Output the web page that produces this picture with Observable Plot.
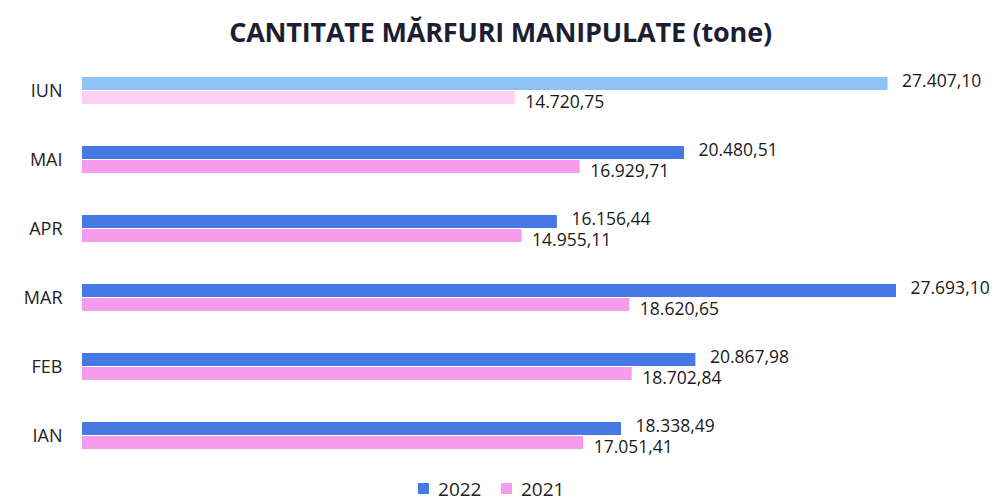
<!DOCTYPE html>
<html>
<head>
<meta charset="utf-8">
<script src="https://cdn.jsdelivr.net/npm/d3@7"></script>
<script src="https://cdn.jsdelivr.net/npm/@observablehq/plot@0.6"></script>
<style>
  body { margin: 0; background: #fff; width: 1001px; height: 501px; overflow: hidden; font-family: "Open Sans", sans-serif; position: relative; }
  #title { height: 55px; line-height: 64px; text-align: center; font-weight: 700; font-size: 27px; color: #1c1f33; letter-spacing: -0.2px; }
  #legend { position: absolute; left: 0; right: 0; top: 476px; height: 25px; display: flex; justify-content: center; }
  #legend > div { margin: 0 !important; min-height: 0 !important; font-size: 19px !important; font-family: "Open Sans", sans-serif !important; color: #222 !important; line-height: 24px; }
  #legend span { font-size: 19px !important; }
</style>
</head>
<body>
<div id="title">CANTITATE MĂRFURI MANIPULATE (tone)</div>
<div id="chart"></div>
<div id="legend"></div>
<script>
const months = ["IUN", "MAI", "APR", "MAR", "FEB", "IAN"];
const years = ["2022", "2021"];
const values2022 = [27407.10, 20480.51, 16156.44, 27693.10, 20867.98, 18338.49];
const values2021 = [14720.75, 16929.71, 14955.11, 18620.65, 18702.84, 17051.41];

const data = [];
months.forEach((m, i) => {
  data.push({month: m, year: "2022", value: values2022[i]});
  data.push({month: m, year: "2021", value: values2021[i]});
});

const ro = d3.formatLocale({decimal: ",", thousands: ".", grouping: [3], currency: ["", ""]});
const fmt = ro.format(",.2f");

const blue = "#4779e4", pink = "#f59cec";
const lightBlue = "#8fc3f5", lightPink = "#fcd0f3";
const fillFor = d => d.month === "IUN"
  ? (d.year === "2022" ? lightBlue : lightPink)
  : (d.year === "2022" ? blue : pink);

const chart = Plot.plot({
  width: 1001,
  height: 416,
  marginLeft: 82,
  marginRight: 105,
  marginTop: 0,
  marginBottom: 0,
  style: {fontFamily: "Open Sans, sans-serif", color: "#222"},
  x: {domain: [0, d3.max(values2022)], axis: null},
  fy: {domain: months, padding: 0, label: null, axis: null},
  y: {domain: years, axis: null, paddingInner: 0.08, paddingOuter: 0, insetTop: 20.5, insetBottom: 20.5},
  marks: [
    Plot.axisFy({anchor: "left", tickSize: 0, tickPadding: 20, fontSize: 18, label: null, fill: "#222"}),
    Plot.barX(data, {fy: "month", y: "year", x: "value", fill: fillFor}),
    Plot.text(data.filter(d => d.year === "2022"), {
      fy: "month", y: "year", x: "value",
      text: d => fmt(d.value), textAnchor: "start", dx: 14, dy: -3, fontSize: 17.5, fill: "#1a1a1a"
    }),
    Plot.text(data.filter(d => d.year === "2021"), {
      fy: "month", y: "year", x: "value",
      text: d => fmt(d.value), textAnchor: "start", dx: 10, dy: 4, fontSize: 17.5, fill: "#1a1a1a"
    })
  ]
});
document.getElementById("chart").appendChild(chart);

const legend = Plot.legend({
  color: {domain: years, range: [blue, pink]},
  swatchSize: 11,
  swatchWidth: 11,
  swatchHeight: 11
});
document.getElementById("legend").appendChild(legend);
</script>
</body>
</html>
